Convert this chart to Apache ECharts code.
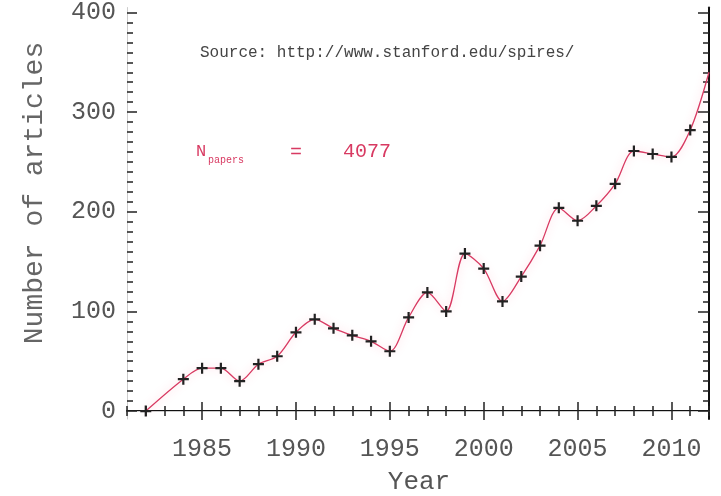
<!DOCTYPE html>
<html>
<head>
<meta charset="utf-8">
<script src="https://cdn.jsdelivr.net/npm/echarts@6/dist/echarts.min.js"></script>
<style>
  html, body { margin: 0; padding: 0; background: #fff; }
  #main { width: 721px; height: 496px; }
</style>
</head>
<body>
<div id="main"></div>
<script>
  // articles per year
  var years = [1982, 1984, 1985, 1986, 1987, 1988, 1989, 1990, 1991, 1992, 1993, 1994, 1995, 1996, 1997,
               1998, 1999, 2000, 2001, 2002, 2003, 2004, 2005, 2006, 2007, 2008, 2009, 2010, 2011, 2012];
  var articles = [0, 32, 43, 43, 30, 47, 55, 79, 92, 83, 76, 70, 60, 94, 119,
                  100, 158, 143, 110, 135, 166, 204, 191, 206, 228, 261, 258, 255, 282, 340];
  var yearLabels = [1985, 1990, 1995, 2000, 2005, 2010];
  var countLabels = [0, 100, 200, 300, 400];

  var minorCounts = [];
  for (var v = 0; v <= 400; v += 10) minorCounts.push(v);

  var labelFont = { fontFamily: 'Liberation Mono', fontSize: 25, color: '#555' };
  var lineColor = '#d83a62';
  var plusSymbol = 'path://M4,0H6V4H10V6H6V10H4V6H0V4H4Z';

  var seriesData = years.map(function (y, i) {
    var item = { value: [y, articles[i]] };
    if (i === years.length - 1) item.symbol = 'none';
    return item;
  });

  function xAx(pos, ticks, len, extra) {
    var a = {
      type: 'value', position: pos, min: 1981, max: 2012,
      axisLine: { show: false },
      axisTick: { show: true, inside: true, length: len, lineStyle: { color: '#222', width: 1.5 } },
      axisLabel: { show: false },
      splitLine: { show: false }
    };
    if (ticks) a.axisTick.customValues = ticks; else a.interval = 1;
    return Object.assign(a, extra || {});
  }
  function yAx(pos, ticks, len, extra) {
    var a = {
      type: 'value', position: pos, min: -8, max: 405,
      axisLine: { show: false },
      axisTick: { show: true, inside: true, length: len, customValues: ticks, lineStyle: { color: '#222', width: 1.5 } },
      axisLabel: { show: false },
      splitLine: { show: false }
    };
    return Object.assign(a, extra || {});
  }

  var chart = echarts.init(document.getElementById('main'));
  var option = {
    animation: false,
    backgroundColor: '#fff',
    grid: { left: 127, right: 12, top: 6, bottom: 77 },
    xAxis: [
      xAx('bottom', yearLabels, 9, {
        axisLine: { show: true, lineStyle: { color: '#111', width: 2 } },
        axisLabel: Object.assign({
          show: true, margin: 18, customValues: yearLabels,
          formatter: function (val) { return String(val); }
        }, labelFont)
      }),
      xAx('bottom', null, 5),
      xAx('top', yearLabels, 9, {
        axisLine: { show: true, lineStyle: { color: '#ccc', width: 1 } }
      }),
      xAx('top', null, 5)
    ],
    yAxis: [
      yAx('left', countLabels, 10, {
        axisLine: { show: true, lineStyle: { color: '#ccc', width: 1 } },
        axisLabel: Object.assign({ show: true, margin: 11, customValues: countLabels }, labelFont)
      }),
      yAx('left', minorCounts, 6),
      yAx('right', countLabels, 11, {
        axisLine: { show: true, lineStyle: { color: '#111', width: 2 } }
      }),
      yAx('right', minorCounts, 6)
    ],
    graphic: [
      { type: 'text', x: 35, y: 193, rotation: Math.PI / 2,
        style: { text: 'Number of articles', fontFamily: 'Liberation Mono', fontSize: 28, fill: '#666',
                 textAlign: 'center', textVerticalAlign: 'middle' } },
      { type: 'text', x: 419, y: 482,
        style: { text: 'Year', fontFamily: 'Liberation Mono', fontSize: 26, fill: '#555',
                 textAlign: 'center', textVerticalAlign: 'middle' } },
      { type: 'text', x: 200, y: 53,
        style: { text: 'Source: http://www.stanford.edu/spires/', fontFamily: 'Liberation Mono', fontSize: 16,
                 fill: '#444', textVerticalAlign: 'middle' } },
      { type: 'text', x: 196, y: 151,
        style: { text: 'N', fontFamily: 'Liberation Mono', fontSize: 17, fill: lineColor, textVerticalAlign: 'middle' } },
      { type: 'text', x: 208, y: 160,
        style: { text: 'papers', fontFamily: 'Liberation Mono', fontSize: 10, fill: lineColor, textVerticalAlign: 'middle' } },
      { type: 'text', x: 296, y: 153,
        style: { text: '=', fontFamily: 'Liberation Mono', fontSize: 20, fill: lineColor, textAlign: 'center', textVerticalAlign: 'middle' } },
      { type: 'text', x: 343, y: 152,
        style: { text: '4077', fontFamily: 'Liberation Mono', fontSize: 20, fill: lineColor, textVerticalAlign: 'middle' } }
    ],
    series: [{
      type: 'line',
      xAxisIndex: 0,
      yAxisIndex: 0,
      data: seriesData,
      smooth: 0.3,
      clip: true,
      symbol: plusSymbol,
      symbolSize: 11,
      itemStyle: { color: '#222' },
      lineStyle: { color: lineColor, width: 1.3, shadowBlur: 8, shadowColor: 'rgba(255,120,150,0.45)' }
    }]
  };
  chart.setOption(option);
</script>
</body>
</html>
